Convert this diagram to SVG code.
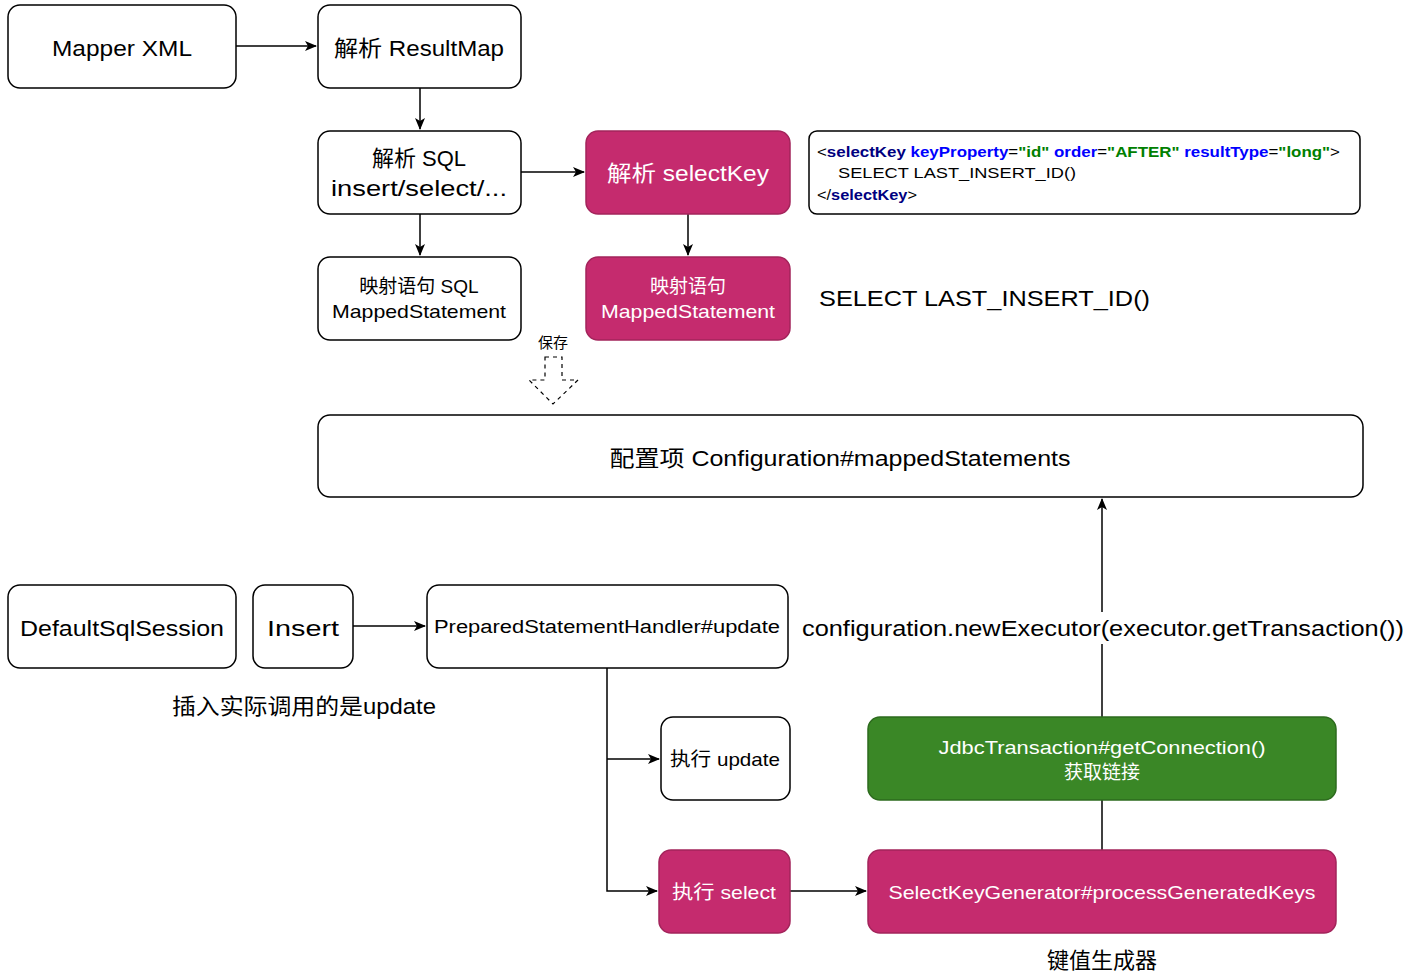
<svg xmlns="http://www.w3.org/2000/svg" width="1410" height="978" viewBox="0 0 1410 978">
<defs>
<style>
text{font-family:"Liberation Sans","Noto Sans CJK SC",sans-serif;text-anchor:middle;dominant-baseline:central;fill:#000}
.w{fill:#fff;stroke:#000;stroke-width:1.5}
.p{fill:#C52B6E;stroke:#A3245B;stroke-width:1.5}
.g{fill:#3A8726;stroke:#2D6B1E;stroke-width:1.5}
.t22{font-size:22px}
.t19{font-size:19px}
.t18{font-size:18px}
.wt{fill:#fff}
.c{stroke:#000;stroke-width:1.5;fill:none}
.code{font-size:15px;text-anchor:start}
.kw{fill:#000080;font-weight:bold}
.at{fill:#0000FF;font-weight:bold}
.vl{fill:#008000;font-weight:bold}
</style>
<marker id="ar" markerWidth="12" markerHeight="12" refX="11" refY="6" orient="auto" markerUnits="userSpaceOnUse">
<path d="M0,1 L12,6 L0,11 L3,6 Z" fill="#000"/>
</marker>
</defs>
<rect width="1410" height="978" fill="#fff"/>
<g id="connectors">
<path class="c" d="M236,46 H316" marker-end="url(#ar)"/>
<path class="c" d="M420,88 V129" marker-end="url(#ar)"/>
<path class="c" d="M521,172 H584" marker-end="url(#ar)"/>
<path class="c" d="M420,214 V255" marker-end="url(#ar)"/>
<path class="c" d="M688,214 V255" marker-end="url(#ar)"/>
<path class="c" d="M353,626 H425" marker-end="url(#ar)"/>
<path class="c" d="M607,668 V891 H657" marker-end="url(#ar)"/>
<path class="c" d="M607,759 H659" marker-end="url(#ar)"/>
<path class="c" d="M790,891 H866" marker-end="url(#ar)"/>
<path class="c" d="M1102,850 V800"/>
<path class="c" d="M1102,717 V499" marker-end="url(#ar)"/>
<path d="M545,357 H562 V380 H578 L553,404 L529,380 H545 Z" fill="#fff" stroke="#000" stroke-width="1.2" stroke-dasharray="4,4"/>
</g>
<g id="n-mapper"><rect class="w" x="8" y="5" width="228" height="83" rx="12"/><text class="t22" x="122" y="48" textLength="140" lengthAdjust="spacingAndGlyphs">Mapper XML</text></g>
<g id="n-resultmap"><rect class="w" x="318" y="5" width="203" height="83" rx="12"/><text class="t22" x="419" y="48" textLength="170" lengthAdjust="spacingAndGlyphs">解析 ResultMap</text></g>
<g id="n-sql"><rect class="w" x="318" y="131" width="203" height="83" rx="12"/><text class="t22" x="419" y="158">解析 SQL</text><text class="t22" x="419" y="188" textLength="176" lengthAdjust="spacingAndGlyphs">insert/select/...</text></g>
<g id="n-selectkey"><rect class="p" x="586" y="131" width="204" height="83" rx="12"/><text class="t22 wt" x="688" y="173" textLength="162" lengthAdjust="spacingAndGlyphs">解析 selectKey</text></g>
<g id="n-code"><rect class="w" x="809" y="131" width="551" height="83" rx="8"/>
<text class="code" x="817" y="151" textLength="523" lengthAdjust="spacingAndGlyphs">&lt;<tspan class="kw">selectKey</tspan> <tspan class="at">keyProperty</tspan>=<tspan class="vl">"id"</tspan> <tspan class="at">order</tspan>=<tspan class="vl">"AFTER"</tspan> <tspan class="at">resultType</tspan>=<tspan class="vl">"long"</tspan>&gt;</text>
<text class="code" x="838" y="172" textLength="238" lengthAdjust="spacingAndGlyphs">SELECT LAST_INSERT_ID()</text>
<text class="code" x="817" y="194" textLength="100" lengthAdjust="spacingAndGlyphs">&lt;/<tspan class="kw">selectKey</tspan>&gt;</text>
</g>
<g id="n-ms"><rect class="w" x="318" y="257" width="203" height="83" rx="12"/><text class="t19" x="419" y="286">映射语句 SQL</text><text class="t19" x="419" y="311" textLength="174" lengthAdjust="spacingAndGlyphs">MappedStatement</text></g>
<g id="n-ms2"><rect class="p" x="586" y="257" width="204" height="83" rx="12"/><text class="t19 wt" x="688" y="286">映射语句</text><text class="t19 wt" x="688" y="311" textLength="174" lengthAdjust="spacingAndGlyphs">MappedStatement</text></g>
<g id="l-lastid"><text class="t22" x="819" y="298" style="text-anchor:start" textLength="331" lengthAdjust="spacingAndGlyphs">SELECT LAST_INSERT_ID()</text></g>
<g id="l-save"><text x="553" y="342" style="font-size:15px">保存</text></g>
<g id="n-config"><rect class="w" x="318" y="415" width="1045" height="82" rx="12"/><text class="t22" x="840" y="458" textLength="461" lengthAdjust="spacingAndGlyphs">配置项 Configuration#mappedStatements</text></g>
<g id="n-session"><rect class="w" x="8" y="585" width="228" height="83" rx="12"/><text class="t22" x="122" y="628" textLength="204" lengthAdjust="spacingAndGlyphs">DefaultSqlSession</text></g>
<g id="n-insert"><rect class="w" x="253" y="585" width="100" height="83" rx="12"/><text class="t22" x="303" y="628" textLength="72" lengthAdjust="spacingAndGlyphs">Insert</text></g>
<g id="n-psh"><rect class="w" x="427" y="585" width="361" height="83" rx="12"/><text class="t18" x="607" y="627" textLength="346" lengthAdjust="spacingAndGlyphs">PreparedStatementHandler#update</text></g>
<g id="l-newexec"><rect x="800" y="612" width="605" height="32" fill="#fff"/><text class="t22" x="1103" y="628" textLength="602" lengthAdjust="spacingAndGlyphs">configuration.newExecutor(executor.getTransaction())</text></g>
<g id="l-insert"><text class="t22" x="304" y="706" textLength="264" lengthAdjust="spacingAndGlyphs">插入实际调用的是update</text></g>
<g id="n-update"><rect class="w" x="661" y="717" width="129" height="83" rx="12"/><text class="t19" x="725" y="759" textLength="110" lengthAdjust="spacingAndGlyphs">执行 update</text></g>
<g id="n-jdbc"><rect class="g" x="868" y="717" width="468" height="83" rx="12"/><text class="t19 wt" x="1102" y="747" textLength="327" lengthAdjust="spacingAndGlyphs">JdbcTransaction#getConnection()</text><text class="t19 wt" x="1102" y="772">获取链接</text></g>
<g id="n-select"><rect class="p" x="659" y="850" width="131" height="83" rx="12"/><text class="t19 wt" x="724" y="892" textLength="104" lengthAdjust="spacingAndGlyphs">执行 select</text></g>
<g id="n-skg"><rect class="p" x="868" y="850" width="468" height="83" rx="12"/><text class="t19 wt" x="1102" y="892" textLength="427" lengthAdjust="spacingAndGlyphs">SelectKeyGenerator#processGeneratedKeys</text></g>
<g id="l-keygen"><text class="t22" x="1102" y="960">键值生成器</text></g>
</svg>
